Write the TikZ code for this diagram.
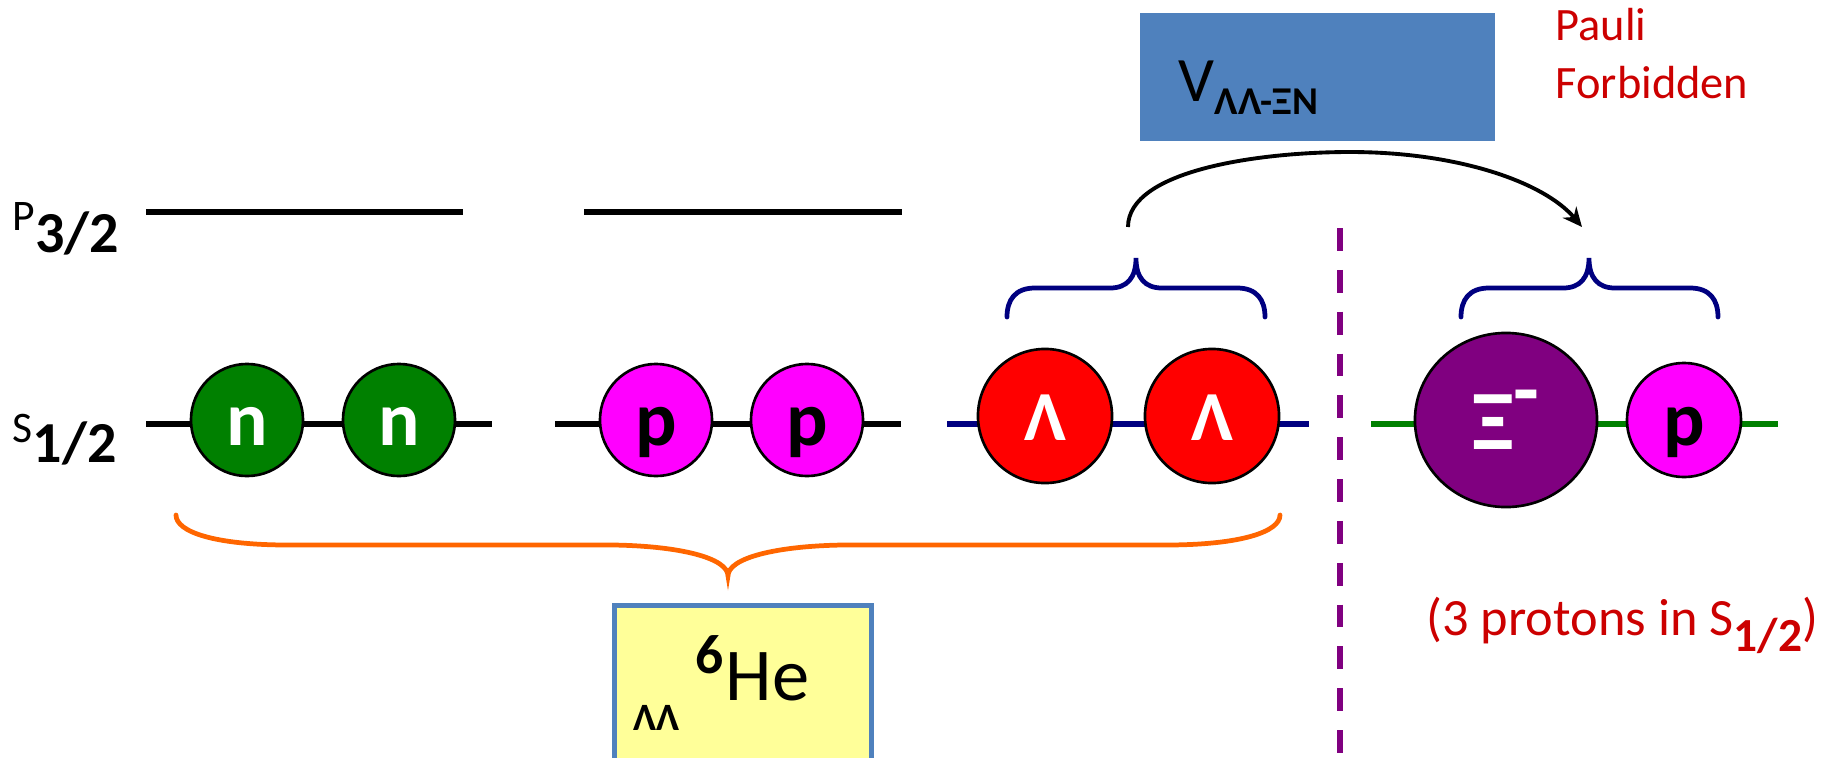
\documentclass[tikz,border=0pt]{standalone}
\usepackage{fontspec}
\setmainfont{Carlito}
\usetikzlibrary{arrows.meta,shapes.geometric}
\definecolor{ngreen}{RGB}{0,128,0}
\definecolor{pmag}{RGB}{255,0,255}
\definecolor{lred}{RGB}{255,0,0}
\definecolor{xipurple}{RGB}{128,0,128}
\definecolor{bnavy}{RGB}{0,0,128}
\definecolor{borange}{RGB}{255,102,0}
\definecolor{boxblue}{RGB}{79,129,189}
\definecolor{boxyellow}{RGB}{255,255,153}
\definecolor{txtred}{RGB}{204,0,0}
\begin{document}
\begin{tikzpicture}[x=0.01cm,y=-0.01cm,
  level/.style={line width=1.5pt},
  nucleon/.style 2 args={circle, draw=black, line width=0.75pt, fill=#1, text=#2,
    minimum size=1.12cm, inner sep=0pt, font=\fontsize{22}{24}\selectfont\bfseries,
    text height=14.5pt, text depth=0pt},
  lambdap/.style={nucleon={lred}{white}, minimum size=1.34cm,
    font=\fontsize{20}{22}\selectfont\bfseries, text height=14.2pt},
  bracenavy/.style={draw=bnavy, line width=1.35pt, line cap=round},
  braceorange/.style={draw=borange, line width=1.35pt, line cap=round},
  lbl/.style={anchor=base west, inner sep=0pt},
  redtxt/.style={lbl, text=txtred}
]
\useasboundingbox (0,0) rectangle (1835,757);

% level labels
\node[lbl, font=\fontsize{12.4}{14}\selectfont] (plab) at (12,230)
  {P\raisebox{-6.3pt}{\fontsize{16.5}{18}\selectfont\bfseries 3/2}};
\node[lbl, font=\fontsize{12.4}{14}\selectfont] (slab) at (12,442)
  {S\raisebox{-5.7pt}{\fontsize{16.5}{18}\selectfont\bfseries 1/2}};

% P3/2 levels
\coordinate (pa1) at (146,212); \coordinate (pa2) at (463,212);
\coordinate (pb1) at (584,212); \coordinate (pb2) at (902,212);
\draw[level] (pa1) -- (pa2);
\draw[level] (pb1) -- (pb2);

% S1/2 levels
\coordinate (sn1) at (146,424); \coordinate (sn2) at (492,424);
\coordinate (sp1) at (555,424); \coordinate (sp2) at (901,424);
\coordinate (sl1) at (947,424); \coordinate (sl2) at (1309,424);
\coordinate (sx1) at (1371,424); \coordinate (sx2) at (1778,424);
\draw[level] (sn1) -- (sn2);
\draw[level] (sp1) -- (sp2);
\draw[level, draw=bnavy] (sl1) -- (sl2);
\draw[level, draw=ngreen] (sx1) -- (sx2);

% particles
\node[nucleon={ngreen}{white}] (n1) at (247,420) {n};
\node[nucleon={ngreen}{white}] (n2) at (399,420) {n};
\node[nucleon={pmag}{black}] (p1) at (656,420) {p};
\node[nucleon={pmag}{black}] (p2) at (807,420) {p};
\node[lambdap] (l1) at (1045,416) {Λ};
\node[lambdap] (l2) at (1212,416) {Λ};
\node[ellipse, draw=black, line width=0.75pt, fill=xipurple, text=white,
  minimum width=1.82cm, minimum height=1.74cm, inner sep=0pt,
  font=\fontsize{24}{26}\selectfont\bfseries, text height=16.5pt, text depth=0pt]
  (xi) at (1506,420) {Ξ\raisebox{8.8pt}{-}};
\node[nucleon={pmag}{black}, minimum size=1.14cm] (p3) at (1684,420) {p};

% dashed separator
\coordinate (dtop) at (1340,228); \coordinate (dbot) at (1340,760);
\draw[draw=xipurple, line width=1.8pt, dash pattern=on 6.5pt off 5.4pt] (dtop) -- (dbot);

% navy braces
\coordinate (b1tip) at (1136,258);
\draw[bracenavy] (1007,317) .. controls (1007,300) and (1015,288) .. (1035,288)
  -- (1110,288) .. controls (1127,288) and (1136,278) .. (b1tip)
  .. controls (1136,278) and (1145,288) .. (1162,288)
  -- (1237,288) .. controls (1257,288) and (1265,300) .. (1265,317);
\coordinate (b2tip) at (1589,258);
\draw[bracenavy] (1461,317) .. controls (1461,300) and (1469,288) .. (1489,288)
  -- (1563,288) .. controls (1580,288) and (1589,278) .. (b2tip)
  .. controls (1589,278) and (1598,288) .. (1615,288)
  -- (1690,288) .. controls (1710,288) and (1718,300) .. (1718,317);

% orange brace
\coordinate (obtip) at (728,576);
\draw[braceorange] (176,515) .. controls (176,532) and (215,545) .. (288,545)
  -- (613,545) .. controls (680,546) and (728,558) .. (obtip)
  .. controls (728,558) and (776,546) .. (843,545)
  -- (1166,545) .. controls (1240,545) and (1280,532) .. (1280,515);

% V box
\node[rectangle, fill=boxblue, draw=boxblue, minimum width=3.53cm, minimum height=1.26cm,
  inner sep=0pt] (vbox) at (1317.5,77) {};
\node[lbl, font=\fontsize{18}{20}\selectfont] (vtxt) at (1178,101)
  {V\raisebox{-3.7pt}{\fontsize{11.2}{13}\selectfont\bfseries ΛΛ-ΞN}};

% arrow
\coordinate (arrS) at (1128,227);
\coordinate (arrE) at (1582,227);
\draw[line width=1.1pt, -{Stealth[length=5.5pt,width=5pt]}]
  (arrS) .. controls (1128,170) and (1260,152) .. (1350,152)
  .. controls (1460,152) and (1545,183) .. (arrE);

% Pauli forbidden
\node[redtxt, font=\fontsize{13.2}{16}\selectfont] (pauli) at (1555,40) {Pauli};
\node[redtxt, font=\fontsize{13.2}{16}\selectfont] (forb) at (1555,98) {Forbidden};

% 3 protons
\node[redtxt, font=\fontsize{14.9}{17}\selectfont] (prot) at (1426,635)
  {(3 protons in S\raisebox{-4.8pt}{\fontsize{13.5}{15}\selectfont\bfseries 1/2})};

% He box
\draw[draw=boxblue, fill=boxyellow, line width=1.5pt] (614.5,605.5) rectangle (871.5,775);
\node[lbl, font=\fontsize{11}{13}\selectfont\bfseries] (hell) at (633,730) {ΛΛ};
\node[lbl, font=\fontsize{15.8}{17}\selectfont\bfseries] (hesix) at (695,673) {6};
\node[lbl, font=\fontsize{21.2}{23}\selectfont] (he) at (725,700) {He};
\end{tikzpicture}
\end{document}
